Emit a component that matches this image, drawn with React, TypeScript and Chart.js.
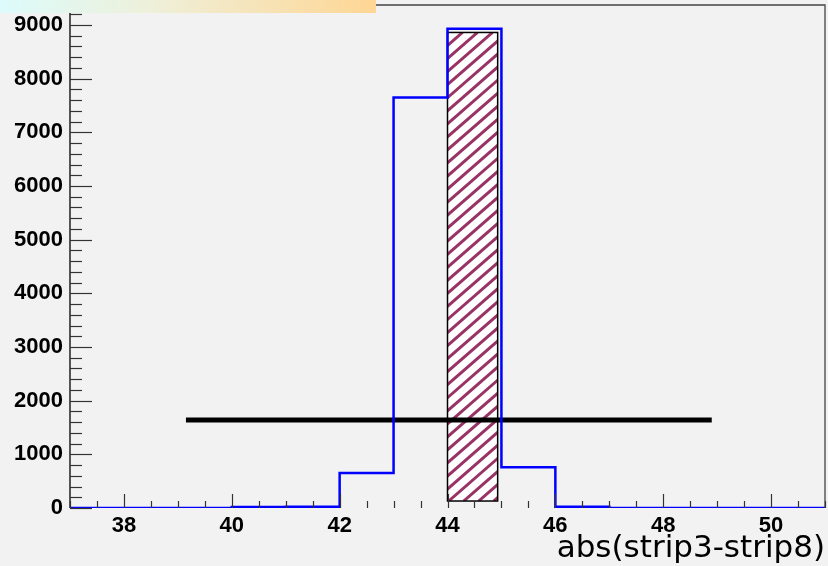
import React, { useEffect, useRef } from "react";
import { Chart, registerables } from "chart.js";

Chart.register(...registerables);

// Histogram bins (left edges) and counts
const binLeftEdges = [37, 38, 39, 40, 41, 42, 43, 44, 45, 46, 47, 48, 49, 50];
const binRightEnd = 51;
const blueCounts = [0, 0, 0, 20, 25, 650, 7650, 8930, 760, 22, 0, 0, 0, 0];

// Hatched box
const hatchXRange = [44, 44.93];
const hatchYRange = [130, 8860];

// Black horizontal line
const blackLineX = [39.15, 48.9];
const blackLineY = 1640;

// Axes
const xMin = 37;
const xMax = 51;
const yMin = 0;
const yMax = 9372;
const xTickLabels = [38, 40, 42, 44, 46, 48, 50];
const yTickLabels = [0, 1000, 2000, 3000, 4000, 5000, 6000, 7000, 8000, 9000];
const xMajorStep = 2;
const xMinorStep = 0.5;
const yMajorStep = 1000;
const yMinorStep = 200;
const xTitle = "abs(strip3-strip8)";

const bg = "#f2f2f2";

const rootPlugin = {
  id: "rootStyle",
  beforeDraw(chart: any) {
    const { ctx, width, height } = chart;
    ctx.save();
    ctx.fillStyle = bg;
    ctx.fillRect(0, 0, width, height);
    ctx.restore();
  },
  beforeDatasetsDraw(chart: any) {
    const { ctx } = chart;
    const xs = chart.scales.x;
    const ys = chart.scales.y;
    const x0 = xs.getPixelForValue(hatchXRange[0]);
    const x1 = xs.getPixelForValue(hatchXRange[1]);
    const yTop = ys.getPixelForValue(hatchYRange[1]);
    const yBot = ys.getPixelForValue(hatchYRange[0]);
    ctx.save();
    ctx.fillStyle = "#ffffff";
    ctx.fillRect(x0, yTop, x1 - x0, yBot - yTop);
    ctx.beginPath();
    ctx.rect(x0, yTop, x1 - x0, yBot - yTop);
    ctx.clip();
    ctx.strokeStyle = "#993366";
    ctx.lineWidth = 3;
    const h = yBot - yTop;
    const run = h * 1.15;
    for (let k = -run - 30; k < x1 - x0 + 30; k += 15) {
      ctx.beginPath();
      ctx.moveTo(x0 + k, yBot);
      ctx.lineTo(x0 + k + run, yTop);
      ctx.stroke();
    }
    ctx.restore();
    ctx.save();
    ctx.strokeStyle = "#000000";
    ctx.lineWidth = 1.5;
    ctx.strokeRect(x0, yTop, x1 - x0, yBot - yTop);
    ctx.restore();
  },
  afterDraw(chart: any) {
    const { ctx, chartArea } = chart;
    const xs = chart.scales.x;
    const ys = chart.scales.y;
    const { left, right, top, bottom } = chartArea;
    ctx.save();
    // frame
    ctx.strokeStyle = "#444444";
    ctx.lineWidth = 1.3;
    ctx.beginPath();
    ctx.moveTo(left, top);
    ctx.lineTo(right, top);
    ctx.lineTo(right, bottom);
    ctx.stroke();
    ctx.strokeStyle = "#555555";
    ctx.lineWidth = 2;
    ctx.beginPath();
    ctx.moveTo(left, top);
    ctx.lineTo(left, bottom);
    ctx.stroke();
    // y ticks (inside)
    ctx.strokeStyle = "#333333";
    ctx.lineWidth = 1.2;
    for (let v = yMin; v <= yMax + 1e-6; v += yMinorStep) {
      const y = Math.round(ys.getPixelForValue(v)) + 0.5;
      const len = Math.abs(v % yMajorStep) < 1e-6 ? 22 : 12;
      ctx.beginPath();
      ctx.moveTo(left, y);
      ctx.lineTo(left + len, y);
      ctx.stroke();
    }
    // x ticks (inside)
    for (let v = xMin; v <= xMax + 1e-6; v += xMinorStep) {
      const x = Math.round(xs.getPixelForValue(v)) + 0.5;
      const len = Math.abs(v % xMajorStep) < 1e-6 ? 14 : 7;
      ctx.beginPath();
      ctx.moveTo(x, bottom);
      ctx.lineTo(x, bottom - len);
      ctx.stroke();
    }
    // title box (cut off at top)
    const g = ctx.createLinearGradient(0, 0, 376, 0);
    g.addColorStop(0, "#dcfbfb");
    g.addColorStop(0.4, "#eef0da");
    g.addColorStop(1, "#ffd694");
    ctx.fillStyle = g;
    ctx.fillRect(0, 0, 376, 13);
    ctx.restore();
  },
};

export default function App() {
  const ref = useRef<HTMLCanvasElement | null>(null);
  useEffect(() => {
    document.body.style.margin = "0";
    const canvas = ref.current;
    if (!canvas) return;
    const stepData = binLeftEdges.map((x, i) => ({ x, y: blueCounts[i] }));
    stepData.push({ x: binRightEnd, y: blueCounts[blueCounts.length - 1] });
    const chart = new Chart(canvas, {
      type: "line",
      data: {
        datasets: [
          {
            data: stepData,
            stepped: "before",
            borderColor: "#0000ff",
            borderWidth: 2.5,
            pointRadius: 0,
            fill: false,
          } as any,
          {
            data: [
              { x: blackLineX[0], y: blackLineY },
              { x: blackLineX[1], y: blackLineY },
            ],
            borderColor: "#000000",
            borderWidth: 5,
            pointRadius: 0,
            fill: false,
          },
        ],
      },
      options: {
        animation: false,
        responsive: false,
        devicePixelRatio: 1,
        layout: { padding: { top: 5, right: 3, left: 0, bottom: 0 } },
        plugins: {
          legend: { display: false },
          tooltip: { enabled: false },
          title: { display: false },
        },
        scales: {
          x: {
            type: "linear",
            min: xMin,
            max: xMax,
            grid: { display: false, drawTicks: false },
            border: { display: false },
            afterBuildTicks: (s: any) => {
              s.ticks = xTickLabels.map((v) => ({ value: v }));
            },
            ticks: {
              padding: 5,
              color: "#000000",
              font: { family: "Liberation Sans", weight: "bold", size: 22 },
              maxRotation: 0,
              autoSkip: false,
              callback: (v: any) => String(v),
            },
            title: {
              display: true,
              text: xTitle,
              align: "end",
              color: "#000000",
              font: { family: "DejaVu Sans", size: 31, lineHeight: 1.1 },
              padding: 0,
            },
            afterFit: (s: any) => {
              s.height = 58;
              s.paddingLeft = 0;
              s.paddingRight = 0;
            },
          },
          y: {
            type: "linear",
            min: yMin,
            max: yMax,
            grid: { display: false, drawTicks: false },
            border: { display: false },
            afterBuildTicks: (s: any) => {
              s.ticks = yTickLabels.map((v) => ({ value: v }));
            },
            ticks: {
              padding: 7,
              color: "#000000",
              font: { family: "Liberation Sans", weight: "bold", size: 22 },
              autoSkip: false,
              callback: (v: any) => String(v),
            },
            afterFit: (s: any) => {
              s.width = 70;
              s.paddingTop = 0;
              s.paddingBottom = 0;
            },
          },
        },
      } as any,
      plugins: [rootPlugin],
    });
    return () => chart.destroy();
  }, []);
  return (
    <div style={{ width: 828, height: 566 }}>
      <canvas ref={ref} width={828} height={566} style={{ display: "block" }} />
    </div>
  );
}
